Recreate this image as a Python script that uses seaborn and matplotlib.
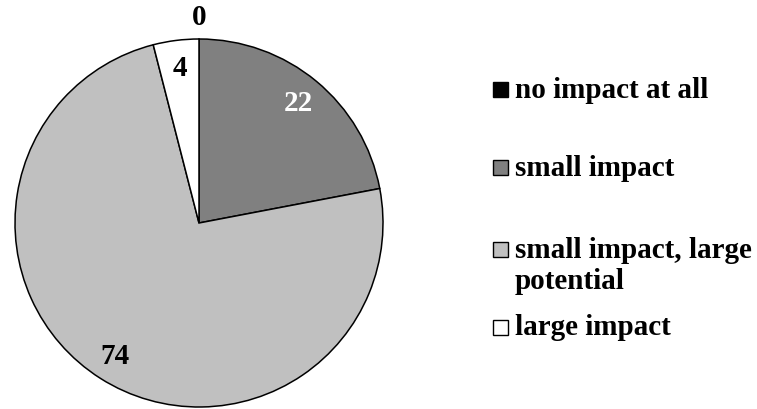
import matplotlib
matplotlib.use("Agg")
import matplotlib.pyplot as plt
import seaborn as sns
import numpy as np
from matplotlib.patches import Rectangle

# survey answers (percent)
categories = ["no impact at all", "small impact", "small impact, large\npotential", "large impact"]
values = [0, 22, 74, 4]
colors = ["#000000", "#808080", "#C0C0C0", "#FFFFFF"]
label_colors = ["black", "white", "black", "black"]

sns.set_theme(style="white")
plt.rcParams['font.family'] = ['Liberation Serif', 'DejaVu Serif']
plt.rcParams['font.weight'] = 'bold'
plt.rcParams['text.color'] = 'black'

fig = plt.figure(figsize=(7.57, 4.10), dpi=100)
W, H = 757, 410
cx, cy, r = 199, 224, 184
ax = fig.add_axes([(cx - r) / W, (H - cy - r) / H, 2 * r / W, 2 * r / H])

wedges, texts, autotexts = ax.pie(
    values, colors=colors, startangle=90, counterclock=False,
    autopct=lambda p: "%d" % round(p), pctdistance=0.85,
    wedgeprops=dict(edgecolor="black", linewidth=1.1),
    textprops=dict(fontsize=21, fontweight="bold", color="black"))
ax.set_xlim(-1, 1)
ax.set_ylim(-1, 1)
ax.set_aspect("equal")

for t, c, v in zip(autotexts, label_colors, values):
    t.set_color(c)
    if v == 0:
        x, y = t.get_position()
        ang = np.arctan2(y, x)
        t.set_position((1.12 * np.cos(ang), 1.12 * np.sin(ang)))

# legend drawn at the right
rows = [90, 168, 250, 328]
for lab, col, yy in zip(categories, colors, rows):
    fig.patches.append(Rectangle((493 / W, (H - yy - 8) / H), 15 / W, 15 / H,
                                 transform=fig.transFigure, facecolor=col,
                                 edgecolor="black", linewidth=1))
    fig.text(515 / W, (H - yy) / H, lab.split("\n")[0], fontsize=21,
             fontweight="bold", va="center", ha="left", color="black")
    if "\n" in lab:
        fig.text(515 / W, (H - yy - 32) / H, lab.split("\n")[1], fontsize=21,
                 fontweight="bold", va="center", ha="left", color="black")

fig.savefig("out.png", dpi=100)
